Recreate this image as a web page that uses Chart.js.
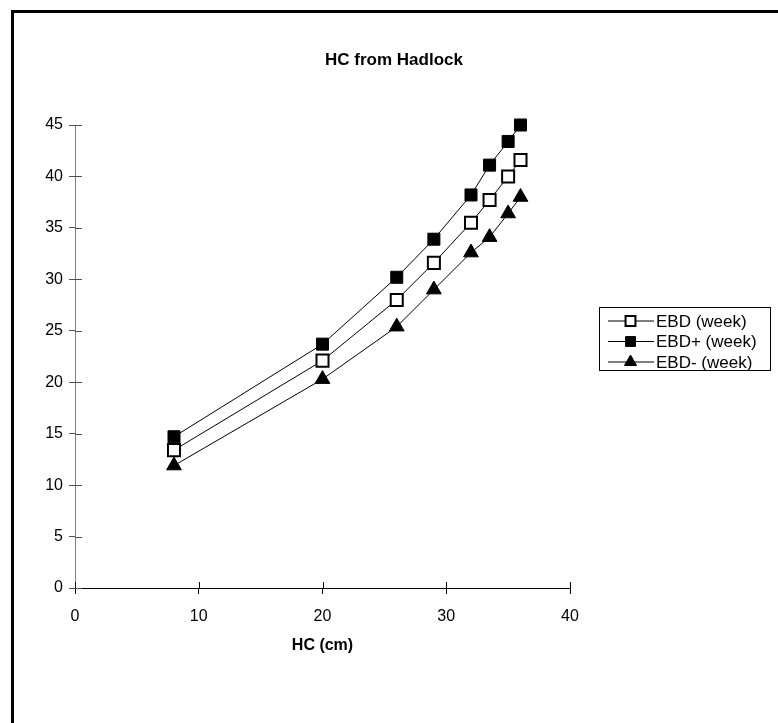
<!DOCTYPE html>
<html>
<head>
<meta charset="utf-8">
<title>HC from Hadlock</title>
<script src="https://cdn.jsdelivr.net/npm/chart.js@4.4.1/dist/chart.umd.min.js"></script>
<style>
  html, body { margin: 0; padding: 0; background: #fff; }
  #wrap { position: relative; width: 778px; height: 723px; overflow: hidden; }
  #frame { position: absolute; left: 11px; top: 10px; width: 820px; height: 820px; border: 3px solid #000; box-sizing: border-box; }
  canvas { position: absolute; left: 0; top: 0; }
</style>
</head>
<body>
<div id="wrap">
  <div id="frame"></div>
  <canvas id="hcChart" width="778" height="723"></canvas>
</div>
<script>
// HC (cm) for each measurement
const hcValues = [8, 20, 26, 29, 32, 33.5, 35, 36];

// Estimated age in weeks
const ebdWeeks = [13.4, 22.1, 28.0, 31.6, 35.5, 37.7, 40.0, 41.6];
const ebdPlusWeeks = [14.7, 23.7, 30.2, 33.9, 38.2, 41.1, 43.4, 45.0];
const ebdMinusWeeks = [11.9, 20.3, 25.4, 29.0, 32.6, 34.1, 36.4, 38.0];

// Axis ticks and texts
const xTicks = [0, 10, 20, 30, 40];
const yTicks = [0, 5, 10, 15, 20, 25, 30, 35, 40, 45];
const seriesLabels = ["EBD (week)", "EBD+ (week)", "EBD- (week)"];
const chartTitle = "HC from Hadlock";
const xAxisTitle = "HC (cm)";

const FONT = 'Arial, "Liberation Sans", sans-serif';
Chart.defaults.font.family = FONT;
Chart.defaults.color = "#000";

function toPoints(ys) {
  return hcValues.map((x, i) => ({ x: x, y: ys[i] }));
}

// Tick marks crossing into the plot, like the original
const innerTicks = {
  id: "innerTicks",
  beforeDatasetsDraw(chart) {
    const ctx = chart.ctx;
    const area = chart.chartArea;
    const xs = chart.scales.x;
    const ys = chart.scales.y;
    ctx.save();
    ctx.lineWidth = 1;
    ctx.strokeStyle = "#505050";
    yTicks.forEach((v) => {
      const py = Math.round(ys.getPixelForValue(v)) + 0.5;
      ctx.beginPath();
      ctx.moveTo(area.left, py);
      ctx.lineTo(area.left + 7, py);
      ctx.stroke();
    });
    ctx.strokeStyle = "#000";
    xTicks.forEach((v) => {
      const px = Math.round(xs.getPixelForValue(v)) + 0.5;
      ctx.beginPath();
      ctx.moveTo(px, area.bottom);
      ctx.lineTo(px, area.bottom - 6);
      ctx.stroke();
    });
    ctx.restore();
  },
};

// Title and boxed legend placed as in the original
const titleAndLegend = {
  id: "titleAndLegend",
  afterDraw(chart) {
    const ctx = chart.ctx;
    ctx.save();
    ctx.fillStyle = "#000";
    ctx.font = "bold 17px " + FONT;
    ctx.textAlign = "center";
    ctx.textBaseline = "middle";
    ctx.fillText(chartTitle, 394, 60);

    // legend box
    const box = { x: 599.5, y: 307.5, w: 171, h: 63 };
    ctx.lineWidth = 1;
    ctx.strokeStyle = "#000";
    ctx.strokeRect(box.x, box.y, box.w, box.h);

    ctx.font = "17px " + FONT;
    ctx.textAlign = "left";
    chart.data.datasets.forEach((ds, i) => {
      const y = box.y + 13.5 + i * 20.5;
      ctx.strokeStyle = "#000";
      ctx.lineWidth = 1;
      ctx.beginPath();
      ctx.moveTo(608, y);
      ctx.lineTo(654, y);
      ctx.stroke();
      ctx.fillStyle = ds.pointBackgroundColor;
      ctx.strokeStyle = "#000";
      ctx.lineWidth = ds.pointBorderWidth;
      Chart.helpers.drawPoint(ctx, {
        pointStyle: ds.pointStyle,
        radius: 7,
        rotation: 0,
        borderWidth: ds.pointBorderWidth,
      }, 630.5, y);
      ctx.fillStyle = "#000";
      ctx.fillText(ds.label, 656, y + 1);
    });
    ctx.restore();
  },
};

const datasets = [
  {
    label: seriesLabels[0],
    data: toPoints(ebdWeeks),
    pointStyle: "rect",
    pointBackgroundColor: "#fff",
    pointBorderWidth: 2,
  },
  {
    label: seriesLabels[1],
    data: toPoints(ebdPlusWeeks),
    pointStyle: "rect",
    pointBackgroundColor: "#000",
    pointBorderWidth: 1,
  },
  {
    label: seriesLabels[2],
    data: toPoints(ebdMinusWeeks),
    pointStyle: "triangle",
    pointBackgroundColor: "#000",
    pointBorderWidth: 1,
  },
].map((ds) => ({
  ...ds,
  borderColor: "#000",
  borderWidth: 1,
  pointBorderColor: "#000",
  pointRadius: 8.5,
  pointHoverRadius: 8.5,
  fill: false,
  tension: 0,
  clip: false,
}));

const ctx = document.getElementById("hcChart").getContext("2d");
new Chart(ctx, {
  type: "line",
  data: { datasets: datasets },
  plugins: [innerTicks, titleAndLegend],
  options: {
    responsive: false,
    animation: false,
    layout: { padding: { top: 125, right: 208, bottom: 68, left: 0 } },
    plugins: {
      legend: { display: false },
      title: { display: false },
      tooltip: { enabled: false },
    },
    scales: {
      x: {
        type: "linear",
        min: 0,
        max: 40,
        afterBuildTicks: (scale) => {
          scale.ticks = xTicks.map((v) => ({ value: v }));
        },
        afterFit: (scale) => {
          scale.height = 67;
        },
        ticks: { font: { size: 16 }, padding: 13, color: "#000" },
        grid: { drawOnChartArea: false, tickLength: 6, color: "#000" },
        border: { color: "#000", width: 1 },
        title: {
          display: true,
          text: xAxisTitle,
          font: { size: 16, weight: "bold" },
          padding: { top: 0, bottom: 0 },
        },
      },
      y: {
        type: "linear",
        min: 0,
        max: 45,
        afterBuildTicks: (scale) => {
          scale.ticks = yTicks.map((v) => ({ value: v }));
        },
        afterFit: (scale) => {
          scale.width = 75;
        },
        ticks: { font: { size: 16 }, padding: 6, color: "#000" },
        grid: { drawOnChartArea: false, tickLength: 6, color: "#505050" },
        border: { color: "#808080", width: 1 },
      },
    },
  },
});
</script>
</body>
</html>
